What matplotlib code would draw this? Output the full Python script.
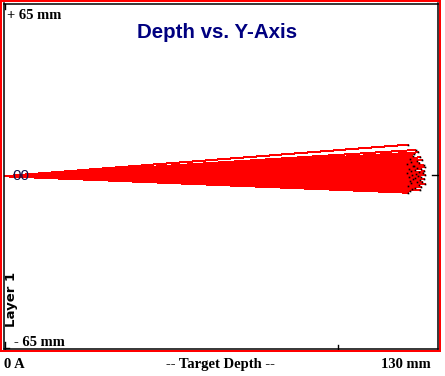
import matplotlib
matplotlib.use("Agg")
import matplotlib.pyplot as plt
from matplotlib.patches import Rectangle

# ---- data (mm) ----
title = "Depth vs. Y-Axis"
x_label = "-- Target Depth --"
x_min_label = "0 A"
x_max_label = "130 mm"
y_max_label = "+ 65 mm"
y_min_label = "- 65 mm"
zero_label = "00"
layer_label = "Layer 1"

x_range = [0, 130]
y_range = [-65, 65]

# ray end points (depth, y) ; each ray starts at (0, 0)
end_depth = [121.3, 123.5, 124.3, 123.0, 122.6, 124.8, 121.9, 125.5, 123.8, 122.2,
             124.6, 121.0, 125.9, 123.1, 122.7, 126.2, 124.0, 121.6, 125.2, 123.4,
             122.0, 126.0, 124.5, 120.8, 125.7, 123.6, 122.4, 126.4, 124.2, 121.4,
             125.0, 123.2, 122.8, 126.1, 124.7, 121.8, 125.4, 123.9, 122.1, 126.3,
             124.4, 121.2, 125.1, 123.3, 122.5, 124.9, 121.7, 121.3]
end_y = [11.9, 9.9, 9.0, 8.4, 7.7, 7.1, 6.6, 6.1, 5.7, 5.3,
         5.0, 4.6, 4.3, 4.0, 3.7, 3.4, 3.1, 2.9, 2.6, 2.3,
         2.1, 1.8, 1.6, 1.3, 1.1, 0.8, 0.6, 0.3, 0.1, -0.2,
         -0.4, -0.7, -0.9, -1.2, -1.5, -1.7, -2.0, -2.3, -2.6, -2.9,
         -3.2, -3.5, -3.9, -4.3, -4.7, -5.2, -5.7, -6.2]

W, H = 445, 376
fig = plt.figure(figsize=(W / 100, H / 100), dpi=100)
fig.patch.set_facecolor("white")

def fx(px):
    return px / W

def fy(py):
    return 1 - py / H

# outer red frame
fig.patches.append(Rectangle((fx(1.0), fy(351.0)), fx(440.0) - fx(1.0), fy(1.0) - fy(351.0),
                             transform=fig.transFigure, fill=False,
                             edgecolor="#ff0000", linewidth=1.1, antialiased=False))

# plot area (black frame)
left, right, top, bottom = 3.5, 437.5, 3.5, 349.0
ax = fig.add_axes([fx(left), fy(bottom), fx(right) - fx(left), fy(top) - fy(bottom)])
ax.set_xlim(*x_range)
ax.set_ylim(*y_range)
for s in ax.spines.values():
    s.set_color("black")
    s.set_linewidth(1.1)
ax.set_xticks([])
ax.set_yticks([])

for xe, ye in zip(end_depth, end_y):
    ax.plot([0, xe], [0, ye], color="#ff0000", linewidth=0.72, antialiased=False,
            solid_capstyle="butt")
ax.plot(end_depth, end_y, linestyle="none", marker="s", markersize=1.2,
        color="black", markeredgewidth=0)

# small ticks (axes coords)
tk = dict(color="black", linewidth=1, transform=ax.transAxes, clip_on=False)
ax.plot([0.004, 0.004], [1.0, 0.985], **tk)
ax.plot([0.004, 0.004], [0.0, 0.02], **tk)
ax.plot([0.004, 0.012], [0.003, 0.003], **tk)
ax.plot([0.77, 0.77], [0.0, 0.012], **tk)
ax.plot([0.987, 1.0], [0.503, 0.503], **tk)

serif = dict(family="Liberation Serif", weight="bold", fontsize=10.5, color="black")
fig.text(fx(7), fy(19), y_max_label, ha="left", va="baseline", **serif)
fig.text(fx(14), fy(346), y_min_label, ha="left", va="baseline", **serif)
fig.text(fx(4), fy(368), x_min_label, ha="left", va="baseline", **serif)
fig.text(fx(220), fy(368), x_label, ha="center", va="baseline", **serif)
fig.text(fx(431), fy(368), x_max_label, ha="right", va="baseline", **serif)

fig.text(fx(217.5), fy(38), title, ha="center", va="baseline",
         family="Liberation Sans", weight="bold", fontsize=14.8, color="#000080")
fig.text(fx(21), fy(176.5), zero_label, ha="center", va="center",
         family="Liberation Sans", fontsize=11, color="#10104a")
fig.text(fx(11), fy(299.5), layer_label, ha="center", va="center", rotation=90,
         family="DejaVu Sans", weight="bold", fontsize=9.5, color="black")

fig.savefig("out.png", dpi=100)
